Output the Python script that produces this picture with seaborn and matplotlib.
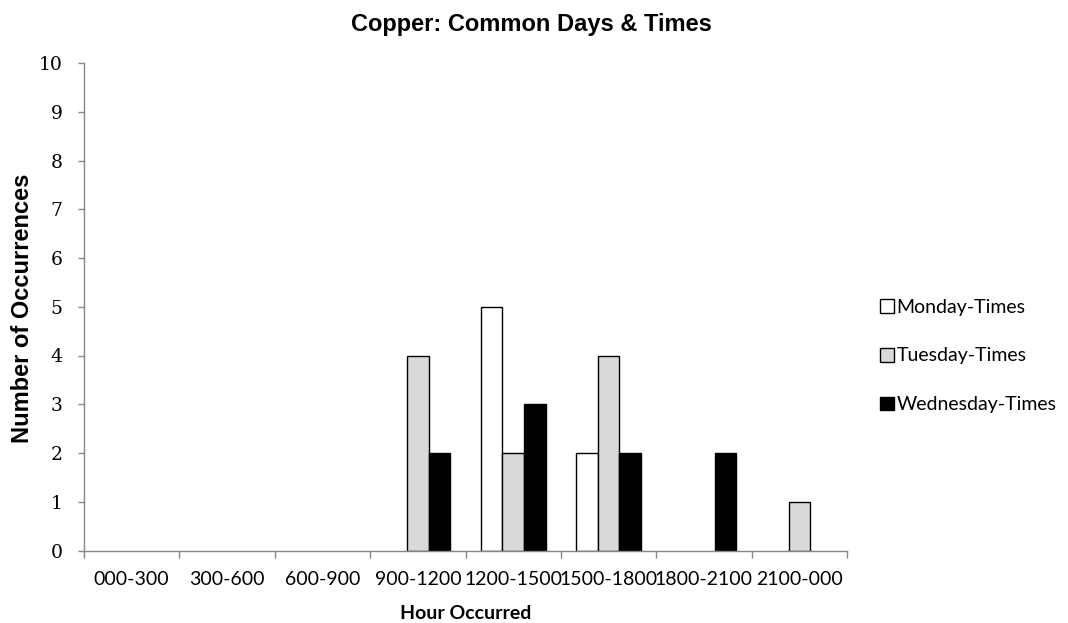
import numpy as np
import pandas as pd
import matplotlib
matplotlib.use("Agg")
import matplotlib.pyplot as plt
from matplotlib.ticker import FixedLocator
import seaborn as sns

# ---- data ----
categories = ["000-300", "300-600", "600-900", "900-1200",
              "1200-1500", "1500-1800", "1800-2100", "2100-000"]
series_names = ["Monday-Times", "Tuesday-Times", "Wednesday-Times"]
monday = [0, 0, 0, 0, 5, 2, 0, 0]
tuesday = [0, 0, 0, 4, 2, 4, 0, 1]
wednesday = [0, 0, 0, 2, 3, 2, 2, 0]
y_ticks = list(range(0, 11))
title = "Copper: Common Days & Times"
x_label = "Hour Occurred"
y_label = "Number of Occurrences"

colors = ["#ffffff", "#d9d9d9", "#000000"]

rows = []
for name, vals in zip(series_names, [monday, tuesday, wednesday]):
    for c, v in zip(categories, vals):
        rows.append({"Hour": c, "Count": v, "Series": name})
df = pd.DataFrame(rows)

sns.set_theme(style="white")
plt.rcParams["font.family"] = ["Liberation Sans", "DejaVu Sans"]
plt.rcParams["text.color"] = "black"
plt.rcParams["axes.labelcolor"] = "black"
plt.rcParams["xtick.color"] = "black"
plt.rcParams["ytick.color"] = "black"

W, H = 1068, 623
fig = plt.figure(figsize=(W / 100, H / 100), dpi=100)
fig.patch.set_facecolor("white")
ax_left, ax_right, ax_top, ax_bottom = 84, 847, 63, 550.5
ax = fig.add_axes([ax_left / W, 1 - ax_bottom / H,
                   (ax_right - ax_left) / W, (ax_bottom - ax_top) / H])

sns.barplot(data=df, x="Hour", y="Count", hue="Series", order=categories,
            hue_order=series_names, palette=colors, width=0.68,
            edgecolor="black", linewidth=1.0, saturation=1, ax=ax, errorbar=None)

# hide zero-height bars (Excel draws nothing for 0)
for cont in ax.containers:
    for bar in cont:
        if bar.get_height() == 0:
            bar.set_linewidth(0)

ax.set_xlim(-0.5, len(categories) - 0.5)
ax.set_ylim(0, 10)
ax.set_yticks(y_ticks)
ax.set_yticklabels([str(t) for t in y_ticks], family="DejaVu Serif", fontsize=13.5,
                   color="black")
ax.set_xticks(range(len(categories)))
ax.set_xticklabels(categories, family="Lato", fontsize=14, color="black")

ax.xaxis.set_minor_locator(FixedLocator(np.arange(-0.5, len(categories), 1.0)))
grey = "#868686"
ax.tick_params(axis="x", which="major", length=0, pad=15, labelcolor="black")
ax.tick_params(axis="x", which="minor", length=5, width=1, color=grey, direction="out", bottom=True)
ax.tick_params(axis="y", which="major", length=4.5, width=1, color=grey, direction="out",
               left=True, pad=11, labelcolor="black")
for s in ["top", "right"]:
    ax.spines[s].set_visible(False)
for s in ["left", "bottom"]:
    ax.spines[s].set_color(grey)
    ax.spines[s].set_linewidth(1)
ax.grid(False)

ax.set_xlabel(x_label, family="Lato", fontweight="bold", fontsize=14, va="baseline",
              color="black")
ax.xaxis.set_label_coords(0.5, (ax_bottom - 619) / (ax_bottom - ax_top))
ax.set_ylabel(y_label, fontweight="bold", fontsize=17, va="baseline", color="black")
ax.yaxis.set_label_coords(-(ax_left - 29) / (ax_right - ax_left), 0.5 - (308 - (ax_top + ax_bottom) / 2) / (ax_bottom - ax_top))

fig.text(531.5 / W, 1 - 30.5 / H, title, ha="center", va="baseline",
         fontsize=17, fontweight="bold", color="black")

sns.move_legend(ax, loc="center left", bbox_to_anchor=(880 / W, 1 - 356 / H),
                bbox_transform=fig.transFigure, frameon=False, title="",
                borderpad=0, borderaxespad=0, handlelength=0.7, handleheight=0.7,
                handletextpad=0.15, labelspacing=1.63,
                prop={"family": "Lato", "size": 14})
leg = ax.get_legend()
for h in leg.legend_handles:
    h.set_edgecolor("black")
    h.set_linewidth(1.0)
for t in leg.get_texts():
    t.set_color("black")

fig.savefig("out.png", dpi=100, facecolor="white")
